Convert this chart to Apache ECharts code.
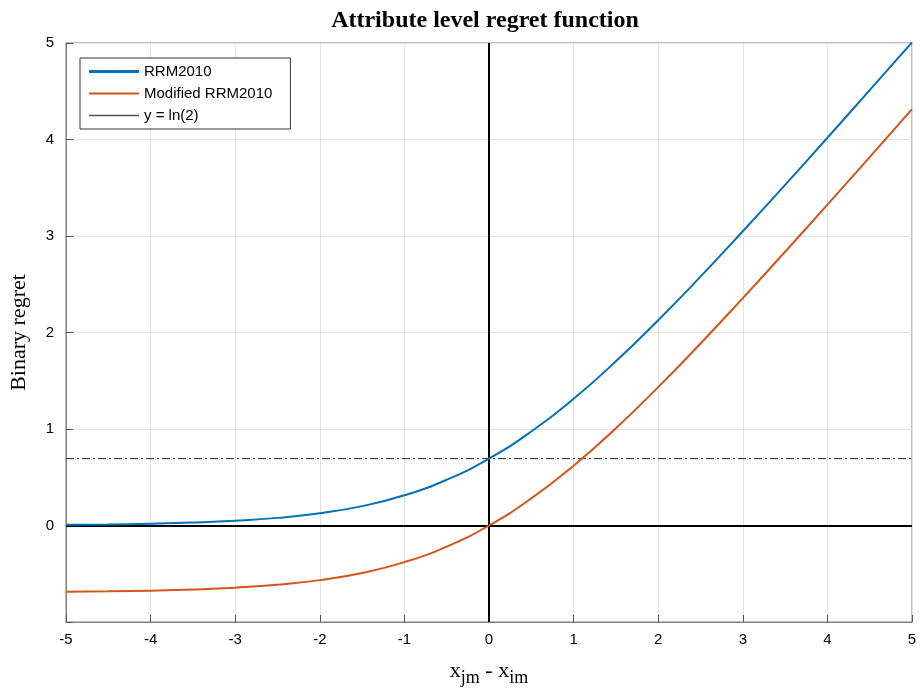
<!DOCTYPE html>
<html><head><meta charset="utf-8">
<script src="https://cdn.jsdelivr.net/npm/echarts@6/dist/echarts.min.js"></script>
<style>html,body{margin:0;padding:0;background:#fff;overflow:hidden}#c{width:920px;height:692px}</style>
</head><body><div id="c"></div>
<script>
const xValues = [-5,-4.5,-4,-3.5,-3,-2.5,-2,-1.5,-1,-0.5,0,0.5,1,1.5,2,2.5,3,3.5,4,4.5,5];
const rrm2010 = [0.007,0.011,0.018,0.030,0.049,0.079,0.127,0.201,0.313,0.474,0.693,0.974,1.313,1.701,2.127,2.579,3.049,3.530,4.018,4.511,5.007];
const modifiedRrm2010 = [-0.686,-0.682,-0.675,-0.663,-0.644,-0.614,-0.566,-0.492,-0.380,-0.219,0,0.281,0.620,1.008,1.434,1.886,2.356,2.837,3.325,3.818,4.314];
const ln2Level = 0.693;
const ln2X = [-5, 5];
const seriesNames = ['RRM2010', 'Modified RRM2010', 'y = ln(2)'];
const xTicks = [-5,-4,-3,-2,-1,0,1,2,3,4,5];
const yTicks = [0,1,2,3,4,5];

const chart = echarts.init(document.getElementById('c'), null, { width: 920, height: 692 });
const pair = (xs, ys) => xs.map((x, i) => [x, ys[i]]);
chart.setOption({
  animation: false,
  backgroundColor: '#fff',
  title: {
    text: 'Attribute level regret function',
    left: 480, top: 4, textAlign: 'center',
    textStyle: { fontFamily: 'Liberation Serif', fontWeight: 'bold', fontSize: 24, color: '#000' }
  },
  grid: { left: 64, right: 8, top: 43, bottom: 61, show: true, borderColor: '#808080', borderWidth: 1, backgroundColor: '#fff' },
  legend: {
    left: 80, top: 58, orient: 'vertical', itemGap: 7, itemWidth: 50, itemHeight: 10,
    padding: [6, 18, 6, 9], borderColor: '#333', borderWidth: 1, backgroundColor: '#fff',
    textStyle: { fontFamily: 'Liberation Sans', fontSize: 15, color: '#000' },
    data: [
      { name: seriesNames[0], icon: 'path://M0,0 L50,0 L50,3 L0,3 Z', itemStyle: { color: '#0072BD' } },
      { name: seriesNames[1], icon: 'path://M0,0 L50,0 L50,2 L0,2 Z', itemStyle: { color: '#D95319' } },
      { name: seriesNames[2], icon: 'path://M0,0 L50,0 L50,1.5 L0,1.5 Z', itemStyle: { color: '#555' } }
    ]
  },
  xAxis: {
    type: 'value', min: -5, max: 5, interval: 1,
    name: 'x{sub|jm} - x{sub|im}', nameLocation: 'middle', nameGap: 33,
    nameTextStyle: { fontFamily: 'Liberation Serif', fontSize: 22, color: '#000',
      rich: { sub: { fontFamily: 'Liberation Serif', fontSize: 18, color: '#000', verticalAlign: 'bottom', padding: [14, 0, 0, 0] } } },
    axisLine: { show: true, onZero: false, lineStyle: { color: '#808080' } },
    axisTick: { show: true, inside: true, length: 7, lineStyle: { color: '#555' } },
    axisLabel: { fontFamily: 'Liberation Sans', fontSize: 15, color: '#000', margin: 10,
      formatter: v => xTicks.includes(v) ? String(v) : '' },
    splitLine: { show: true, lineStyle: { color: '#e3e3e3', width: 1 } }
  },
  yAxis: {
    type: 'value', min: -1, max: 5, interval: 1,
    name: 'Binary regret', nameLocation: 'middle', nameGap: 36,
    nameTextStyle: { fontFamily: 'Liberation Serif', fontSize: 22, color: '#000' },
    axisLine: { show: true, onZero: false, lineStyle: { color: '#808080' } },
    axisTick: { show: true, inside: true, length: 7, lineStyle: { color: '#555' } },
    axisLabel: { fontFamily: 'Liberation Sans', fontSize: 15, color: '#000', margin: 12,
      formatter: v => yTicks.includes(v) ? String(v) : '' },
    splitLine: { show: true, lineStyle: { color: '#e3e3e3', width: 1 } }
  },
  series: [
    {
      name: seriesNames[2], type: 'line', symbol: 'none', z: 3,
      data: pair(ln2X, [ln2Level, ln2Level]),
      lineStyle: { color: '#222', width: 1, type: [8, 3, 2, 3] },
      markLine: {
        silent: true, symbol: 'none', label: { show: false }, animation: false,
        lineStyle: { color: '#000', width: 2, type: 'solid' },
        data: [{ xAxis: 0 }, { yAxis: 0 }]
      }
    },
    {
      name: seriesNames[0], type: 'line', symbol: 'none', smooth: true, z: 5,
      data: pair(xValues, rrm2010),
      lineStyle: { color: '#0072BD', width: 2 }, itemStyle: { color: '#0072BD' }
    },
    {
      name: seriesNames[1], type: 'line', symbol: 'none', smooth: true, z: 5,
      data: pair(xValues, modifiedRrm2010),
      lineStyle: { color: '#D95319', width: 2 }, itemStyle: { color: '#D95319' }
    }
  ]
});
</script></body></html>
